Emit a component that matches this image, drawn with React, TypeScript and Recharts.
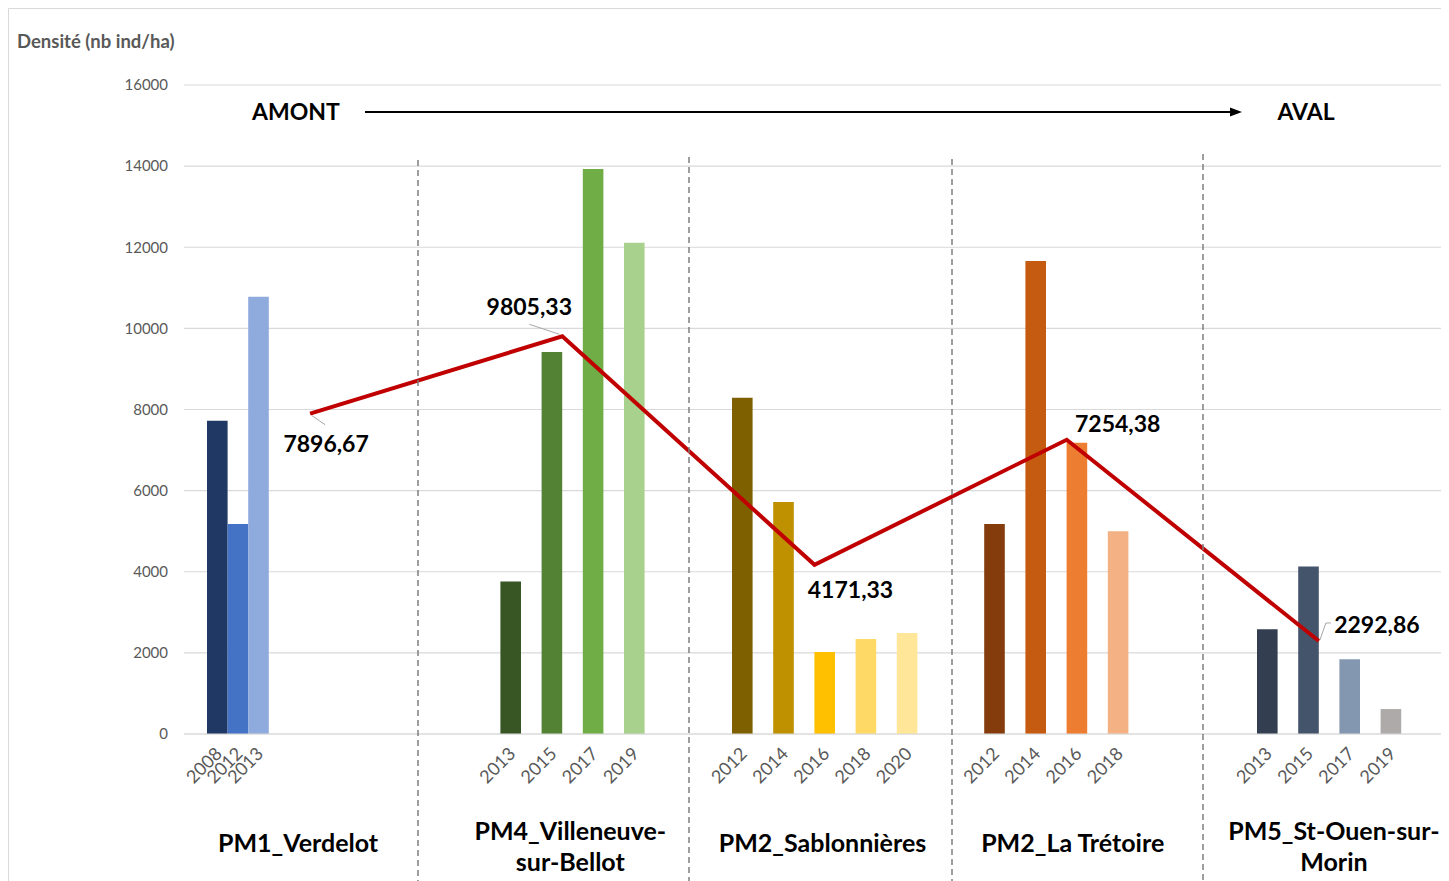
import {
  ComposedChart,
  Bar,
  Line,
  XAxis,
  YAxis,
  CartesianGrid,
  Cell,
  LabelList,
} from "recharts";

// sites (categories) and every year that appears in one of them
const sites = [
  "PM1_Verdelot",
  "PM4_Villeneuve-sur-Bellot",
  "PM2_Sablonnières",
  "PM2_La Trétoire",
  "PM5_St-Ouen-sur-Morin",
];
const siteLines = [
  ["PM1_Verdelot"],
  ["PM4_Villeneuve-", "sur-Bellot"],
  ["PM2_Sablonnières"],
  ["PM2_La Trétoire"],
  ["PM5_St-Ouen-sur-", "Morin"],
];
const allYears = [2008, 2012, 2013, 2014, 2015, 2016, 2017, 2018, 2019, 2020];

// densité (nb ind/ha) per site and year
const pm1Years = [2008, 2012, 2013];
const pm1Density = [7720, 5180, 10780];
const pm4Years = [2013, 2015, 2017, 2019];
const pm4Density = [3760, 9420, 13930, 12110];
const sabYears = [2012, 2014, 2016, 2018, 2020];
const sabDensity = [8290, 5720, 2020, 2340, 2490];
const treYears = [2012, 2014, 2016, 2018];
const treDensity = [5180, 11660, 7180, 5000];
const pm5Years = [2013, 2015, 2017, 2019];
const pm5Density = [2580, 4130, 1845, 615];

// mean per site (red line)
const siteMeans = [7896.67, 9805.33, 4171.33, 7254.38, 2292.86];

const yTicks = [0, 2000, 4000, 6000, 8000, 10000, 12000, 14000, 16000];

const pm1Colors = ["#1F3864", "#4472C4", "#8FAADC"];
const pm4Colors = ["#375623", "#548235", "#70AD47", "#A9D18E"];
const sabColors = ["#7F6000", "#BF9000", "#FFC000", "#FFD966", "#FFE699"];
const treColors = ["#843C0C", "#C55A11", "#ED7D31", "#F4B183"];
const pm5Colors = ["#333F50", "#44546A", "#8497B0", "#AEAAAA"];

const groups = [
  { years: pm1Years, values: pm1Density, colors: pm1Colors },
  { years: pm4Years, values: pm4Density, colors: pm4Colors },
  { years: sabYears, values: sabDensity, colors: sabColors },
  { years: treYears, values: treDensity, colors: treColors },
  { years: pm5Years, values: pm5Density, colors: pm5Colors },
];

const rows = sites.map((site, i) => {
  const row: Record<string, any> = { site, mean: siteMeans[i] };
  groups[i].years.forEach((y, j) => {
    row[`y${y}`] = groups[i].values[j];
  });
  return row;
});

const colorFor = (siteIdx: number, year: number) => {
  const g = groups[siteIdx];
  const j = g.years.indexOf(year);
  return j >= 0 ? g.colors[j] : "transparent";
};

// label placement for the mean values (relative to the point)
const meanLabelOffsets = [
  { dx: 16, dy: 29, leader: [2, 2, 15, 11] },
  { dx: -33, dy: -30, leader: [-33, -12, -3, -2] },
  { dx: 36, dy: 24, leader: null },
  { dx: 51, dy: -17, leader: null },
  { dx: 58, dy: -17, leader: [1, -1, 7, -18, 12, -18] },
];
// horizontal nudge of the site names under each group
const siteLabelDx = [-12, 8, 8, 6, 15];

const W = 1441;
const H = 873;
const FONT = "Lato, 'Open Sans', sans-serif";
const GREY_TEXT = "#595959";

const renderYear = (props: any, year: number) => {
  const raw = Array.isArray(props.value) ? props.value[1] : props.value;
  if (raw == null || Number.isNaN(Number(raw))) return null;
  const cx = Number(props.x) + Number(props.width) / 2 + 1;
  const base = Number(props.y) + Number(props.height) + 16;
  return (
    <text
      x={cx}
      y={base}
      transform={`rotate(-45, ${cx}, ${base})`}
      textAnchor="end"
      dominantBaseline="central"
      fill={GREY_TEXT}
      fontSize={18}
      fontFamily={FONT}
    >
      {year}
    </text>
  );
};

const renderMean = (props: any) => {
  const { x, y, index, value } = props;
  const o = meanLabelOffsets[index];
  const px = Number(x);
  const py = Number(y);
  let leader = null;
  if (o.leader) {
    const pts: string[] = [];
    for (let k = 0; k < o.leader.length; k += 2) {
      pts.push(`${px + o.leader[k]},${py + o.leader[k + 1]}`);
    }
    leader = <polyline points={pts.join(" ")} fill="none" stroke="#A6A6A6" strokeWidth={1} />;
  }
  return (
    <g>
      {leader}
      <text
        x={px + o.dx}
        y={py + o.dy}
        textAnchor="middle"
        dominantBaseline="central"
        fontSize={23}
        fontWeight={700}
        fontFamily={FONT}
        fill="#000"
      >
        {Number(value).toFixed(2).replace(".", ",")}
      </text>
    </g>
  );
};

const SiteTick = (props: any) => {
  const { x, y, index } = props;
  const lines = siteLines[index] || [String(props.payload?.value)];
  const startY = lines.length === 1 ? y + 100 : y + 88;
  const cx = x + (siteLabelDx[index] || 0);
  return (
    <g>
      {lines.map((l, k) => (
        <text
          key={k}
          x={cx}
          y={startY + k * 31}
          textAnchor="middle"
          dominantBaseline="central"
          fontSize={25}
          fontWeight={700}
          fontFamily={FONT}
          fill="#000"
        >
          {l}
        </text>
      ))}
    </g>
  );
};

const separators = [
  { x: 410, top: 152 },
  { x: 681, top: 149 },
  { x: 944, top: 151 },
  { x: 1195, top: 146 },
];

export default function App() {
  return (
    <div style={{ position: "relative", width: W, height: H, fontFamily: FONT }}>
      <ComposedChart
        width={W}
        height={H}
        data={rows}
        barGap={0}
        margin={{ top: 77, right: 4, bottom: 0, left: 0 }}
      >
        <CartesianGrid vertical={false} stroke="#D9D9D9" strokeWidth={1.2} />
        <XAxis
          dataKey="site"
          axisLine={{ stroke: "#D9D9D9", strokeWidth: 1.2 }}
          tickLine={false}
          height={147}
          interval={0}
          tick={<SiteTick />}
        />
        <YAxis
          domain={[0, 16000]}
          ticks={yTicks}
          width={176}
          axisLine={false}
          tickLine={false}
          tickSize={0}
          tickMargin={16}
          tick={{ fill: GREY_TEXT, fontSize: 15, fontFamily: FONT }}
        />
        {allYears.map((year) => (
          <Bar
            key={year}
            dataKey={`y${year}`}
            barSize={20.6}
            isAnimationActive={false}
          >
            {rows.map((r, i) => (
              <Cell key={`${r.site}-${year}`} fill={colorFor(i, year)} />
            ))}
            <LabelList content={(p: any) => renderYear(p, year)} />
          </Bar>
        ))}
        <Line
          type="linear"
          dataKey="mean"
          stroke="#C00000"
          strokeWidth={4}
          dot={false}
          activeDot={false}
          isAnimationActive={false}
        >
          <LabelList dataKey="mean" content={renderMean} />
        </Line>
      </ComposedChart>
      <svg
        width={W}
        height={H}
        style={{ position: "absolute", left: 0, top: 0, pointerEvents: "none" }}
      >
        <line x1={0.5} y1={0.5} x2={W} y2={0.5} stroke="#D9D9D9" />
        <line x1={0.5} y1={0.5} x2={0.5} y2={H} stroke="#D9D9D9" />
        <text
          x={9}
          y={33}
          dominantBaseline="central"
          fontSize={18.5}
          fontWeight={700}
          fill={GREY_TEXT}
          fontFamily={FONT}
        >
          Densité (nb ind/ha)
        </text>
        <text
          x={288}
          y={103}
          textAnchor="middle"
          dominantBaseline="central"
          fontSize={23}
          fontWeight={700}
          fill="#000"
          fontFamily={FONT}
        >
          AMONT
        </text>
        <line x1={357} y1={104} x2={1224} y2={104} stroke="#000" strokeWidth={2} />
        <polygon points="1234,104 1222,99.5 1222,108.5" fill="#000" />
        <text
          x={1298}
          y={103}
          textAnchor="middle"
          dominantBaseline="central"
          fontSize={23}
          fontWeight={700}
          fill="#000"
          fontFamily={FONT}
        >
          AVAL
        </text>
        {separators.map((s) => (
          <line
            key={s.x}
            x1={s.x}
            y1={s.top}
            x2={s.x}
            y2={H}
            stroke="#7F7F7F"
            strokeWidth={1.5}
            strokeDasharray="6 4"
          />
        ))}
      </svg>
    </div>
  );
}
